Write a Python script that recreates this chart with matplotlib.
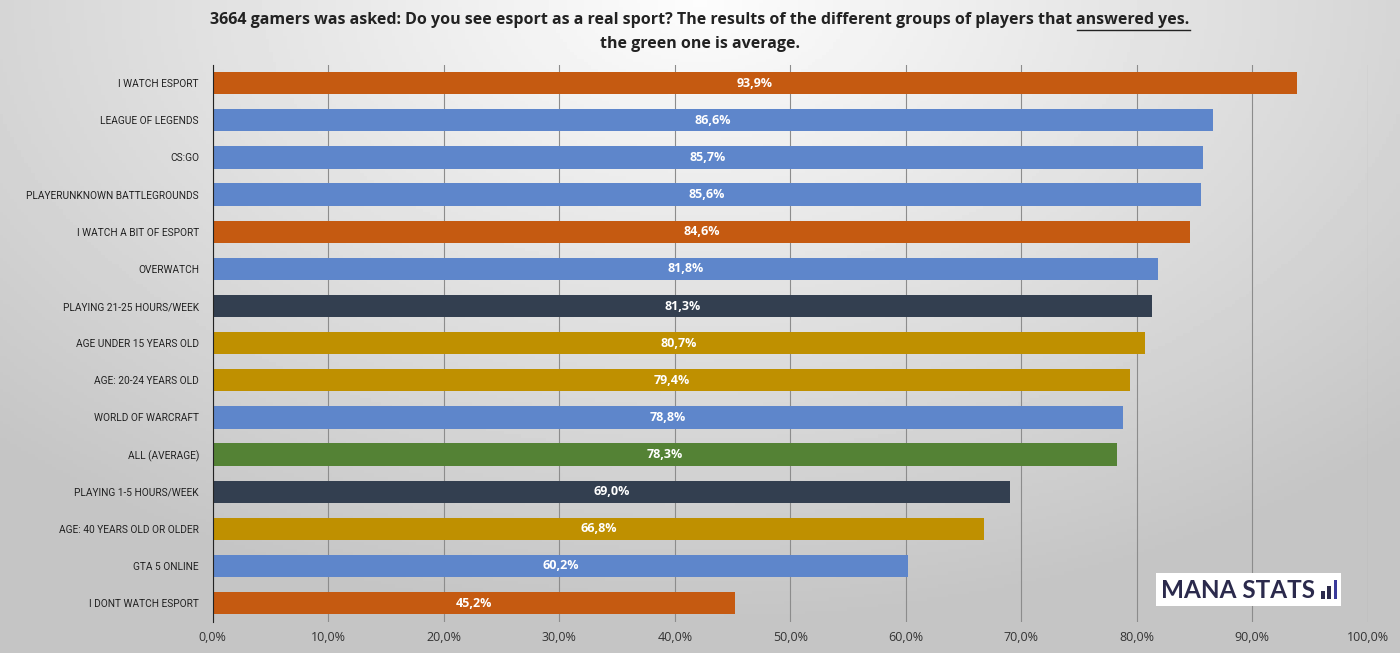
import numpy as np
import matplotlib
matplotlib.use('Agg')
import matplotlib.pyplot as plt
from matplotlib.patches import Rectangle

# 数据
labels = ['I WATCH ESPORT', 'LEAGUE OF LEGENDS', 'CS:GO', 'PLAYERUNKNOWN BATTLEGROUNDS',
          'I WATCH A BIT OF ESPORT', 'OVERWATCH', 'PLAYING 21-25 HOURS/WEEK',
          'AGE UNDER 15 YEARS OLD', 'AGE: 20-24 YEARS OLD', 'WORLD OF WARCRAFT',
          'ALL (AVERAGE)', 'PLAYING 1-5 HOURS/WEEK', 'AGE: 40 YEARS OLD OR OLDER',
          'GTA 5 ONLINE', 'I DONT WATCH ESPORT']
values = [93.9, 86.6, 85.7, 85.6, 84.6, 81.8, 81.3, 80.7, 79.4, 78.8, 78.3, 69.0, 66.8, 60.2, 45.2]
groups = ['watch', 'game', 'game', 'game', 'watch', 'game', 'hours', 'age', 'age', 'game',
          'avg', 'hours', 'age', 'game', 'watch']
ticks = [0, 10, 20, 30, 40, 50, 60, 70, 80, 90, 100]

group_colors = {'watch': '#C55A11', 'game': '#5E86CB', 'hours': '#333F50',
                'age': '#BF9000', 'avg': '#548235'}

plt.rcParams['font.family'] = ['Open Sans', 'DejaVu Sans']

fig = plt.figure(figsize=(14, 6.53), dpi=100)

# 背景渐变
bg = fig.add_axes([0, 0, 1, 1])
yy, xx = np.mgrid[0:1:200j, 0:1:400j]
r = np.sqrt(((xx - 0.5) * 1.0) ** 2 + ((yy - 0.0) * 0.75) ** 2)
bg.imshow(0.99 - 0.22 * np.clip(r / 0.72, 0, 1), cmap='gray', vmin=0, vmax=1,
          aspect='auto', extent=[0, 1, 1, 0])
bg.axis('off')

ax = fig.add_axes([0.152, 0.048, 0.825, 0.853])
ax.patch.set_alpha(0)
y = np.arange(len(labels))
colors = [group_colors[g] for g in groups]
ax.barh(y, values, height=0.6, color=colors, zorder=3)
for yi, v in zip(y, values):
    ax.text(v / 2, yi, ('%.1f%%' % v).replace('.', ','), ha='center', va='center',
            color='white', fontsize=9, fontweight='bold', zorder=4)

ax.set_ylim(len(labels) - 0.5, -0.5)
ax.set_xlim(0, 100)
ax.set_yticks(y)
ax.set_yticklabels(labels, fontsize=7.3, color='#222222', family=['Roboto', 'DejaVu Sans'])
ax.set_xticks(ticks)
ax.set_xticklabels([('%.1f%%' % t).replace('.', ',') for t in ticks], fontsize=9, color='#333333')
ax.tick_params(length=0, pad=7)
ax.tick_params(axis='y', pad=10)
ax.grid(axis='x', color='#8c8c8c', linewidth=0.8, zorder=0)
for s in ['top', 'right', 'bottom']:
    ax.spines[s].set_visible(False)
ax.spines['left'].set_color('#222222')
ax.spines['left'].set_zorder(5)

# 标题
part1 = '3664 gamers was asked: Do you see esport as a real sport? The results of the different groups of players that '
part2 = 'answered yes.'
tkw = dict(fontsize=11.5, fontweight='bold', color='#222222', va='center')
fig.canvas.draw()
rend = fig.canvas.get_renderer()
t1 = fig.text(0, 0.97, part1, ha='left', **tkw)
t2 = fig.text(0, 0.97, part2, ha='left', **tkw)
w1 = t1.get_window_extent(rend).width / fig.bbox.width
w2 = t2.get_window_extent(rend).width / fig.bbox.width
x0 = 0.5 - (w1 + w2) / 2
t1.set_x(x0)
t2.set_x(x0 + w1)
fig.add_artist(plt.Line2D([x0 + w1, x0 + w1 + w2], [0.954, 0.954], color='#222222',
                          linewidth=1, transform=fig.transFigure))
fig.text(0.5, 0.932, 'the green one is average.', ha='center', **tkw)

# logo
fig.add_artist(Rectangle((0.826, 0.072), 0.132, 0.05, transform=fig.transFigure,
                         facecolor='white', edgecolor='none', zorder=10))
fig.text(0.829, 0.096, 'MANA STATS', fontsize=17.5, fontweight='bold', color='#2B2A4C',
         va='center', ha='left', family=['Lato', 'DejaVu Sans'], zorder=11)
for i, h in enumerate([0.013, 0.021, 0.03]):
    fig.add_artist(Rectangle((0.9435 + i * 0.0045, 0.082), 0.0028, h, transform=fig.transFigure,
                             facecolor='#2B2A4C' if i < 2 else '#3A3A9A', edgecolor='none', zorder=11))

fig.savefig('out.png', dpi=100)
